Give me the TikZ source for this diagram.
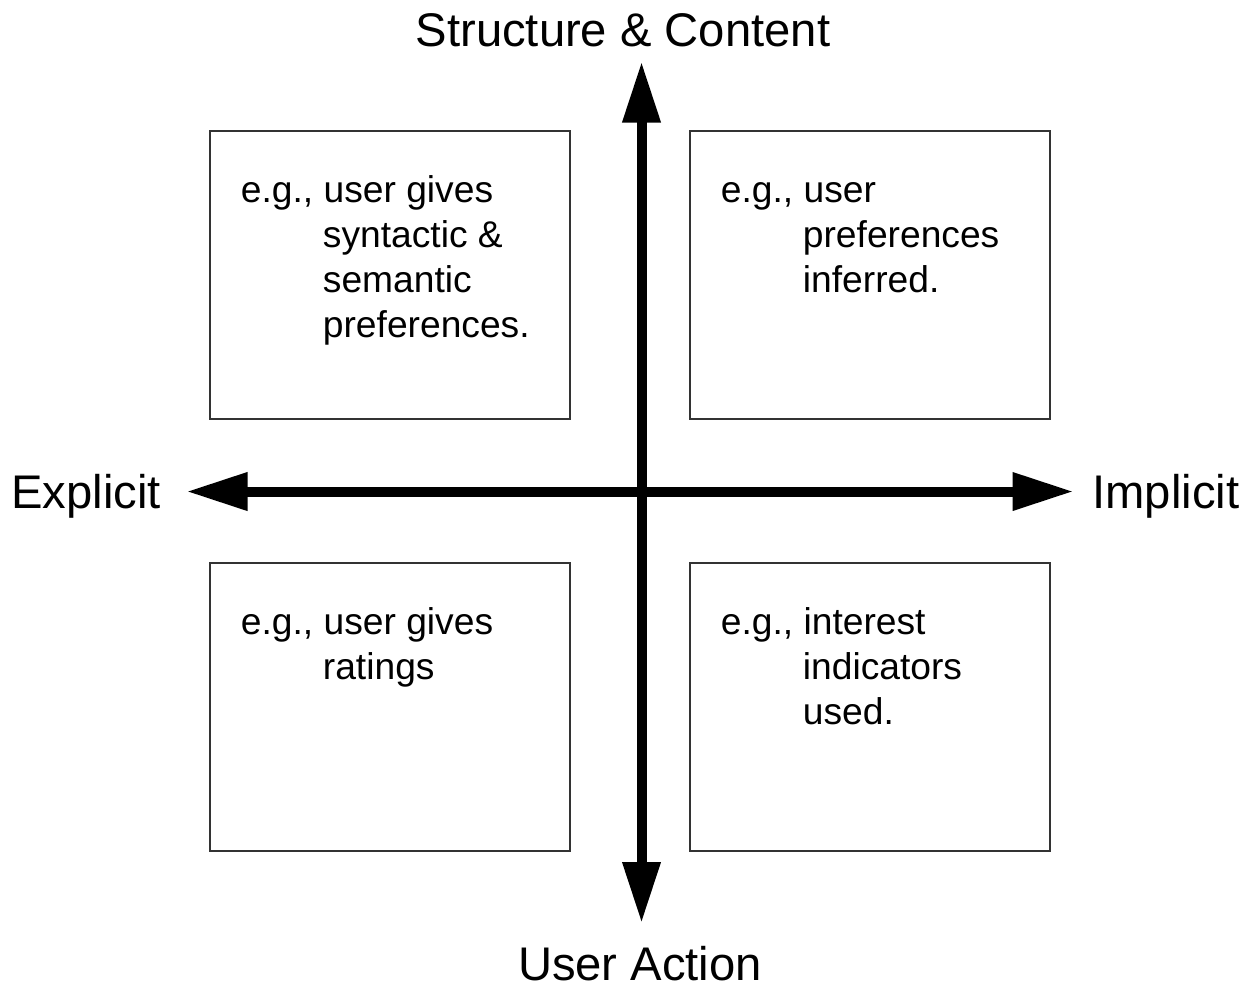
\documentclass[tikz,border=0pt]{standalone}
\usepackage{fontspec}
\setmainfont{Liberation Sans}
\usetikzlibrary{arrows.meta}
\begin{document}
\begin{tikzpicture}[x=0.5pt,y=-0.5pt,
  box/.style={draw=black!80, line width=0.75pt, minimum width=180pt, minimum height=144pt, inner sep=0pt},
  axis/.style={line width=5pt, {Triangle[length=30.5pt,width=18pt]}-{Triangle[length=30.5pt,width=18pt]}},
  axislabel/.style={inner sep=0pt, anchor=base, font=\fontsize{23.6}{28}\selectfont},
  lbl/.style={inner sep=0pt, anchor=base west, font=\fontsize{18.6}{22.5}\selectfont}]
\useasboundingbox (0,0) rectangle (1256,987);

% quadrant boxes
\node[box] (tl) at (390,275) {};
\node[box] (tr) at (870,275) {};
\node[box] (bl) at (390,707) {};
\node[box] (br) at (870,707) {};

% axis ends
\coordinate (up) at (641.5,61.5);
\coordinate (down) at (641.5,923);
\coordinate (left) at (186.5,491.5);
\coordinate (right) at (1073.5,491.5);

\draw[axis] (down) -- (up);
\draw[axis] (left) -- (right);

% axis labels
\node[axislabel] (sc) at (623,46) {Structure \& Content};
\node[axislabel] (ua) at (640,980) {User Action};
\node[axislabel, anchor=base west] (ex) at (11,508) {Explicit};
\node[axislabel, anchor=base west] (im) at (1092,508) {Implicit};

% top left
\node[lbl] (tl1) at (240.5,202) {e.g., user gives};
\node[lbl] (tl2) at (322.5,247) {syntactic \&};
\node[lbl] (tl3) at (322.5,292) {semantic};
\node[lbl] (tl4) at (322.5,337) {preferences.};

% top right
\node[lbl] (tr1) at (720.5,202) {e.g., user};
\node[lbl] (tr2) at (802.5,247) {preferences};
\node[lbl] (tr3) at (802.5,292) {inferred.};

% bottom left
\node[lbl] (bl1) at (240.5,634) {e.g., user gives};
\node[lbl] (bl2) at (322.5,679) {ratings};

% bottom right
\node[lbl] (br1) at (720.5,634) {e.g., interest};
\node[lbl] (br2) at (802.5,679) {indicators};
\node[lbl] (br3) at (802.5,724) {used.};
\end{tikzpicture}
\end{document}
